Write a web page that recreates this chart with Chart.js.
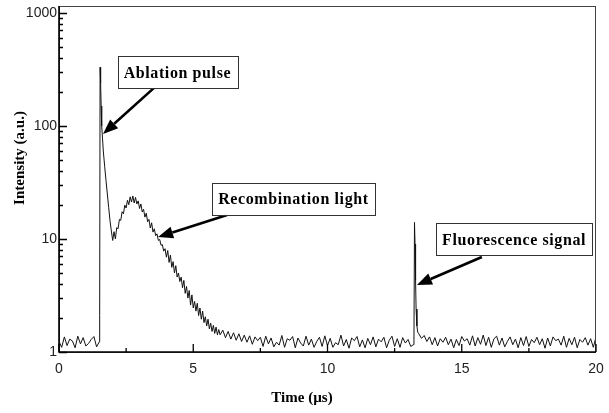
<!DOCTYPE html>
<html>
<head>
<meta charset="utf-8">
<script src="https://cdn.jsdelivr.net/npm/chart.js@4.4.1/dist/chart.umd.min.js"></script>
<style>
body { margin: 0; background: #fff; }
</style>
</head>
<body>
<canvas id="signal-chart" width="609" height="413"></canvas>
<script>
const timeUs = [
  0.0, 0.1, 0.2, 0.3, 0.4, 0.5, 0.6, 0.7, 0.8, 0.9, 1.0, 1.1, 1.2, 1.3, 1.4, 1.5,
  1.51, 1.52, 1.53, 1.55, 1.57, 1.59, 1.62, 1.65, 1.70, 1.75, 1.80, 1.85, 1.90, 1.95,
  2.00, 2.05, 2.10, 2.15, 2.20, 2.25, 2.30, 2.35, 2.40, 2.45, 2.50, 2.55, 2.60, 2.65, 2.70, 2.75,
  2.80, 2.85, 2.90, 2.95, 3.00, 3.05, 3.10, 3.15, 3.20, 3.25, 3.30, 3.35, 3.40, 3.45, 3.50, 3.55,
  3.60, 3.65, 3.70, 3.75, 3.80, 3.85, 3.90, 3.95, 4.00, 4.05, 4.10, 4.15, 4.20, 4.25, 4.30, 4.35,
  4.40, 4.45, 4.50, 4.55, 4.60, 4.65, 4.70, 4.75, 4.80, 4.85, 4.90, 4.95, 5.00, 5.05, 5.10, 5.15,
  5.20, 5.25, 5.30, 5.35, 5.40, 5.45, 5.50, 5.55, 5.60, 5.65, 5.70, 5.75, 5.80, 5.85, 5.90, 5.95,
  6.0, 6.1, 6.2, 6.3, 6.4, 6.5, 6.6, 6.7, 6.8, 6.9, 7.0, 7.1, 7.2, 7.3, 7.4, 7.5, 7.6, 7.7, 7.8, 7.9,
  8.0, 8.1, 8.2, 8.3, 8.4, 8.5, 8.6, 8.7, 8.8, 8.9, 9.0, 9.1, 9.2, 9.3, 9.4, 9.5, 9.6, 9.7, 9.8, 9.9,
  10.0, 10.1, 10.2, 10.3, 10.4, 10.5, 10.6, 10.7, 10.8, 10.9, 11.0, 11.1, 11.2, 11.3, 11.4, 11.5,
  11.6, 11.7, 11.8, 11.9, 12.0, 12.1, 12.2, 12.3, 12.4, 12.5, 12.6, 12.7, 12.8, 12.9, 13.0, 13.1,
  13.2, 13.22, 13.24, 13.26, 13.28, 13.30, 13.33, 13.36, 13.4, 13.5, 13.6, 13.7, 13.8, 13.9,
  14.0, 14.1, 14.2, 14.3, 14.4, 14.5, 14.6, 14.7, 14.8, 14.9, 15.0, 15.1, 15.2, 15.3, 15.4, 15.5,
  15.6, 15.7, 15.8, 15.9, 16.0, 16.1, 16.2, 16.3, 16.4, 16.5, 16.6, 16.7, 16.8, 16.9, 17.0, 17.1,
  17.2, 17.3, 17.4, 17.5, 17.6, 17.7, 17.8, 17.9, 18.0, 18.1, 18.2, 18.3, 18.4, 18.5, 18.6, 18.7,
  18.8, 18.9, 19.0, 19.1, 19.2, 19.3, 19.4, 19.5, 19.6, 19.7, 19.8, 19.9, 20.0
];
const intensity = [
  1.24, 1.10, 1.36, 1.14, 1.30, 1.25, 1.09, 1.38, 1.18, 1.34, 1.13, 1.19, 1.29, 1.37, 1.11, 1.23,
  1.9, 2.1, 330, 240, 150, 100, 78, 60, 44, 33, 25, 19, 14.5, 11.8,
  9.7, 11.6, 10.0, 12.6, 12.3, 14.9, 14.6, 17.4, 16.7, 19.9, 18.8, 22.0, 20.1, 23.6, 21.2, 24.0,
  20.8, 23.3, 20.4, 21.7, 18.6, 20.4, 17.3, 18.3, 15.6, 16.9, 14.2, 14.9, 12.5, 13.9, 11.5, 12.3,
  10.7, 11.1, 9.7, 9.9, 8.8, 8.9, 7.8, 8.2, 6.9, 7.9, 6.2, 7.2, 5.6, 6.3, 5.0, 5.8,
  4.6, 5.0, 4.2, 4.6, 3.7, 4.3, 3.3, 3.8, 3.0, 3.5, 2.6, 3.2, 2.45, 2.8, 2.3, 2.7,
  2.1, 2.45, 1.95, 2.3, 1.82, 2.05, 1.7, 1.95, 1.6, 1.8, 1.52, 1.72, 1.46, 1.66, 1.42, 1.58,
  1.42, 1.56, 1.34, 1.52, 1.30, 1.48, 1.27, 1.45, 1.24, 1.41, 1.22, 1.39, 1.17, 1.36, 1.26, 1.35, 1.12, 1.38, 1.18, 1.33,
  1.11, 1.22, 1.15, 1.40, 1.10, 1.31, 1.27, 1.37, 1.09, 1.33, 1.20, 1.13, 1.38, 1.15, 1.30, 1.10, 1.24, 1.35, 1.12, 1.39,
  1.14, 1.32, 1.10, 1.21, 1.16, 1.41, 1.13, 1.29, 1.08, 1.33, 1.26, 1.37, 1.11, 1.28, 1.09, 1.32,
  1.16, 1.36, 1.11, 1.30, 1.23, 1.35, 1.09, 1.27, 1.38, 1.12, 1.31, 1.10, 1.34, 1.20, 1.29, 1.12,
  1.16, 1.30, 14, 9, 4.3, 2.4, 1.7, 1.5, 1.45, 1.32, 1.40, 1.24, 1.36, 1.16,
  1.34, 1.13, 1.31, 1.22, 1.35, 1.16, 1.30, 1.09, 1.29, 1.14, 1.37, 1.25, 1.31, 1.15, 1.39, 1.13,
  1.34, 1.17, 1.41, 1.14, 1.35, 1.10, 1.31, 1.38, 1.15, 1.33, 1.11, 1.24, 1.36, 1.16, 1.30, 1.09,
  1.34, 1.14, 1.37, 1.12, 1.29, 1.21, 1.35, 1.16, 1.31, 1.08, 1.33, 1.13, 1.36, 1.26, 1.30, 1.15,
  1.38, 1.10, 1.32, 1.16, 1.35, 1.09, 1.29, 1.22, 1.34, 1.15, 1.31, 1.10, 1.36, 1.16
];
const xTickLabels = [0, 5, 10, 15, 20];
const xMinorTicks = [2.5, 7.5, 12.5, 17.5];
const yTickLabels = [1, 10, 100, 1000];

// callouts: text, box centre and arrow tail/tip, all in data coordinates
const notes = [
  { text: 'Ablation pulse', box: [4.41, 297], tail: [3.54, 217], tip: [1.64, 85] },
  { text: 'Recombination light', box: [8.73, 22.6], tail: [6.26, 16.3], tip: [3.69, 10.4] },
  { text: 'Fluorescence signal', box: [16.95, 9.9], tail: [15.75, 6.93], tip: [13.33, 3.92] }
];

function drawArrow(ctx, x0, y0, x1, y1) {
  const ang = Math.atan2(y1 - y0, x1 - x0);
  const head = 15, half = 6;
  const bx = x1 - head * Math.cos(ang), by = y1 - head * Math.sin(ang);
  ctx.lineWidth = 2.6;
  ctx.beginPath();
  ctx.moveTo(x0, y0);
  ctx.lineTo(bx, by);
  ctx.stroke();
  ctx.beginPath();
  ctx.moveTo(x1, y1);
  ctx.lineTo(bx + half * Math.sin(ang), by - half * Math.cos(ang));
  ctx.lineTo(bx - half * Math.sin(ang), by + half * Math.cos(ang));
  ctx.closePath();
  ctx.fill();
}

const frameAndNotes = {
  id: 'frameAndNotes',
  afterDatasetsDraw(chart) {
    const { ctx, chartArea: a, scales: { x, y } } = chart;
    ctx.save();

    // frame
    ctx.strokeStyle = '#444';
    ctx.lineWidth = 1;
    ctx.strokeRect(a.left + 0.5, a.top + 0.5, a.right - a.left - 1, a.bottom - a.top);
    ctx.strokeStyle = '#000';
    ctx.lineWidth = 1.6;
    ctx.beginPath();
    ctx.moveTo(a.left, a.top);
    ctx.lineTo(a.left, a.bottom);
    ctx.lineTo(a.right, a.bottom);
    ctx.stroke();

    // inward ticks
    ctx.lineWidth = 1.3;
    ctx.beginPath();
    xTickLabels.forEach(v => {
      const px = x.getPixelForValue(v);
      ctx.moveTo(px, a.bottom); ctx.lineTo(px, a.bottom - 8);
    });
    xMinorTicks.forEach(v => {
      const px = x.getPixelForValue(v);
      ctx.moveTo(px, a.bottom); ctx.lineTo(px, a.bottom - 4);
    });
    yTickLabels.forEach(v => {
      const py = Math.round(y.getPixelForValue(v)) + 0.5;
      ctx.moveTo(a.left, py); ctx.lineTo(a.left + 8, py);
    });
    [1, 10, 100].forEach(d => {
      for (let m = 2; m <= 9; m++) {
        const py = Math.round(y.getPixelForValue(d * m)) + 0.5;
        ctx.moveTo(a.left, py); ctx.lineTo(a.left + 4, py);
      }
    });
    ctx.stroke();

    // callouts
    ctx.font = 'bold 16px "Liberation Serif", "Times New Roman", serif';
    ctx.letterSpacing = '0.6px';
    ctx.textAlign = 'center';
    ctx.textBaseline = 'middle';
    notes.forEach(n => {
      ctx.fillStyle = '#000';
      ctx.strokeStyle = '#000';
      drawArrow(ctx, x.getPixelForValue(n.tail[0]), y.getPixelForValue(n.tail[1]),
        x.getPixelForValue(n.tip[0]), y.getPixelForValue(n.tip[1]));
      const cx = x.getPixelForValue(n.box[0]), cy = y.getPixelForValue(n.box[1]);
      const w = ctx.measureText(n.text).width + 12, h = 32;
      ctx.fillStyle = '#fff';
      ctx.fillRect(cx - w / 2, cy - h / 2, w, h);
      ctx.strokeStyle = '#333';
      ctx.lineWidth = 1;
      ctx.strokeRect(Math.round(cx - w / 2) + 0.5, Math.round(cy - h / 2) + 0.5, Math.round(w), h);
      ctx.fillStyle = '#000';
      ctx.fillText(n.text, cx, cy + 1);
    });

    // axis titles
    ctx.letterSpacing = '0px';
    ctx.font = 'bold 15px "Liberation Serif", "Times New Roman", serif';
    ctx.fillText('Time (\u00b5s)', 302, 398);
    ctx.translate(20, 158);
    ctx.rotate(-Math.PI / 2);
    ctx.fillText('Intensity (a.u.)', 0, 0);
    ctx.restore();
  }
};

const tickFont = { family: '"Liberation Sans", Arial, sans-serif', size: 14 };

new Chart('signal-chart', {
  type: 'line',
  data: {
    datasets: [{
      data: timeUs.map((t, i) => ({ x: t, y: intensity[i] })),
      borderColor: '#111',
      borderWidth: 1,
      pointRadius: 0,
      tension: 0
    }]
  },
  options: {
    responsive: false,
    animation: false,
    layout: { padding: { left: 0, right: 13, top: 6, bottom: 0 } },
    plugins: { legend: { display: false }, tooltip: { enabled: false } },
    scales: {
      x: {
        type: 'linear',
        min: 0,
        max: 20,
        afterBuildTicks: s => { s.ticks = xTickLabels.map(v => ({ value: v })); },
        afterFit: s => { s.height = 61; s.paddingLeft = 0; s.paddingRight = 0; },
        grid: { display: false, drawTicks: false },
        border: { display: false },
        ticks: { font: tickFont, color: '#222', padding: 9, maxRotation: 0 }
      },
      y: {
        type: 'logarithmic',
        min: 1,
        max: 1150,
        afterBuildTicks: s => { s.ticks = yTickLabels.map(v => ({ value: v })); },
        afterFit: s => { s.width = 59; s.paddingTop = 0; s.paddingBottom = 0; },
        grid: { display: false, drawTicks: false },
        border: { display: false },
        ticks: { font: tickFont, color: '#222', padding: 2, callback: v => String(v) }
      }
    }
  },
  plugins: [frameAndNotes]
});
</script>
</body>
</html>
